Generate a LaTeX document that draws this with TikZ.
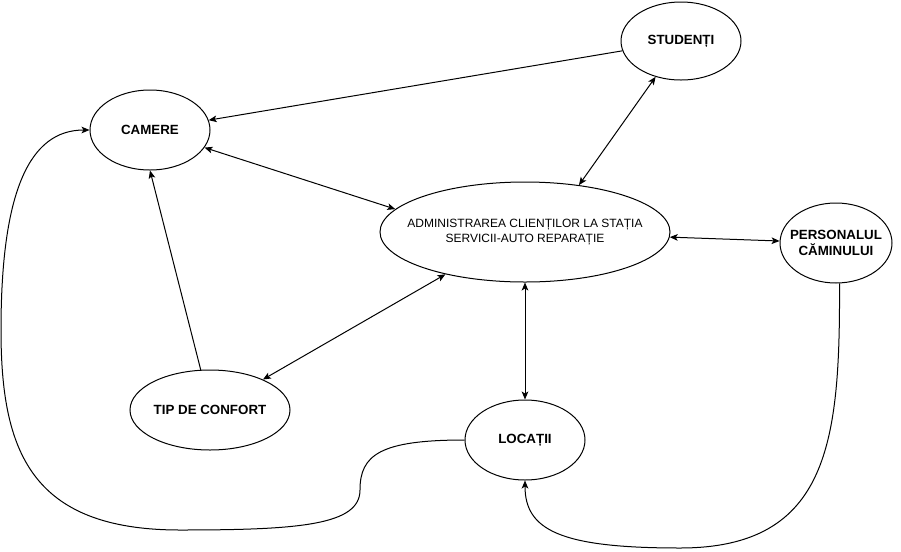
\documentclass[tikz,border=0pt]{standalone}
\usepackage{fontspec}
\setmainfont{Liberation Sans}
\usetikzlibrary{arrows.meta, shapes.geometric}

\begin{document}
\begin{tikzpicture}[
    x=0.75pt, y=-0.75pt,
    lblbold/.style={align=center, font=\bfseries\fontsize{10}{12.5}\selectfont},
    lblreg/.style={align=center, font=\fontsize{9}{11.25}\selectfont},
    entity/.style={draw, ellipse, line width=0.75pt, label={[lblbold]center:#1}},
    process/.style={draw, ellipse, line width=0.75pt, label={[lblreg]center:#1}},
    arr/.style={-{Stealth[length=6pt, width=5pt, inset=1.5pt]}, line width=0.75pt},
    biarr/.style={{Stealth[length=6pt, width=5pt, inset=1.5pt]}-{Stealth[length=6pt, width=5pt, inset=1.5pt]}, line width=0.75pt}
]
\useasboundingbox (0,0) rectangle (901,551);

% ---- Entities ----
\node[entity={CAMERE}, minimum width=90pt, minimum height=60pt]   (cam)  at (150,130) {};
\node[entity={STUDENȚI}, minimum width=90pt, minimum height=58.5pt] (stud) at (681,41) {};
\node[entity={PERSONALUL\\CĂMINULUI}, minimum width=84pt, minimum height=60pt] (pers) at (836,243) {};
\node[entity={TIP DE CONFORT}, minimum width=120pt, minimum height=60pt] (tip) at (210,410) {};
\node[entity={LOCAȚII}, minimum width=90pt, minimum height=60pt]  (loc)  at (525,440) {};

% ---- Central process ----
\node[process={ADMINISTRAREA CLIENȚILOR LA STAȚIA\\SERVICII-AUTO REPARAȚIE},
      minimum width=217.5pt, minimum height=75pt] (main) at (525,232) {};

% ---- Straight connectors ----
\draw[arr]   (stud) -- (cam);
\draw[biarr] (cam) -- (main.170);
\draw[biarr] (main.41) -- (stud);
\draw[biarr] (main) -- (pers);
\draw[biarr] (main) -- (loc);
\draw[biarr] (main.208) -- (tip);
\draw[arr]   (tip.103) -- (cam.south);

% ---- LOCAȚII -> CAMERE (round the left side) ----
\draw[arr] (loc.west) .. controls (380,440) and (360,455) .. (360,490)
    .. controls (360,525) and (300,530) .. (180,530)
    .. controls (30,530) and (1,450) .. (1,330)
    .. controls (1,190) and (30,130) .. (cam.west);

% ---- PERSONALUL -> LOCAȚII (round the bottom) ----
\draw[arr] (pers.-85) .. controls (840,440) and (830,548) .. (680,548)
    .. controls (560,548) and (525,530) .. (loc.south);

\end{tikzpicture}
\end{document}
